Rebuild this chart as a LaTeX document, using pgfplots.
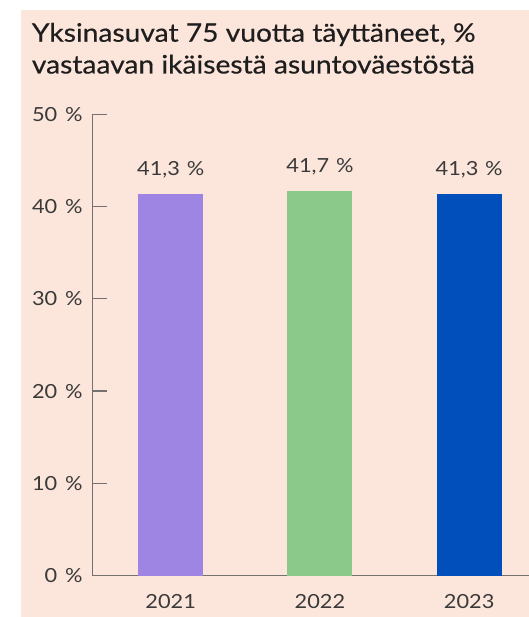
\documentclass[border=0pt]{standalone}
\usepackage{pgfplots}
\pgfplotsset{compat=1.18}
\usepackage{fontspec}
\setmainfont{Lato}
\newfontfamily\titlefont{Lato}[FakeStretch=1.11,FakeBold=0.5]
\newfontfamily\tickfont{Lato}[FakeStretch=1.12]
\definecolor{peach}{HTML}{FCE5DA}
\definecolor{txt}{HTML}{1E1E1E}
\definecolor{lbl}{HTML}{3A3A3A}
\definecolor{axc}{HTML}{767171}
\definecolor{c1}{HTML}{9E85E3}
\definecolor{c2}{HTML}{8BC98A}
\definecolor{c3}{HTML}{004FBA}
\begin{document}
\begin{tikzpicture}
\useasboundingbox (0bp,0bp) rectangle (529bp,617bp);
\clip (0bp,0bp) rectangle (529bp,617bp);
\fill[white] (0bp,0bp) rectangle (529bp,617bp);
\fill[peach] (20.7bp,0bp) rectangle (529bp,607bp);
\node[anchor=base west, font=\titlefont\fontsize{25.5}{30}\selectfont, text=txt, inner sep=0] at (31.7bp,575.3bp) {Yksinasuvat 75 vuotta täyttäneet, \%};
\node[anchor=base west, font=\titlefont\fontsize{25.5}{30}\selectfont, text=txt, inner sep=0] at (31.7bp,543.5bp) {vastaavan ikäisestä asuntoväestöstä};
\begin{axis}[
  at={(92.7bp,41.3bp)}, anchor=south west,
  scale only axis, width=436.3bp, height=461.5bp,
  clip=false,
  xmin=-0.523, xmax=2.401, ymin=0, ymax=50,
  axis x line*=bottom, axis y line*=left,
  axis line style={draw=axc, line width=1.2bp},
  xtick={0,1,2}, xticklabels={2021,2022,2023},
  xtick style={draw=none},
  ytick={0,10,20,30,40,50},
  ytick style={draw=axc, line width=1.2bp},
  tick align=inside, major tick length=14bp,
  yticklabel={\pgfmathprintnumber{\tick}\hspace{0.4em}\%},
  /pgf/number format/assume math mode=true,
  ticklabel style={font=\tickfont\fontsize{19.5}{21}\selectfont, text=lbl, inner sep=0pt},
  yticklabel style={xshift=-10bp},
  xticklabel style={yshift=-4.7bp},
  ybar, bar width=65bp, bar shift=0pt,
  nodes near coords={\pgfmathprintnumber[fixed,fixed zerofill,precision=1,use comma]{\pgfplotspointmeta}\hspace{0.35em}\%},
  nodes near coords align={vertical},
  every node near coord/.append style={font=\tickfont\fontsize{19.5}{21}\selectfont, text=lbl, inner sep=0pt, anchor=base, yshift=18.5bp},
]
\addplot[fill=c1, draw=none] coordinates {(0,41.3)};
\addplot[fill=c2, draw=none] coordinates {(1,41.7)};
\addplot[fill=c3, draw=none] coordinates {(2,41.3)};
\end{axis}
\end{tikzpicture}
\end{document}
